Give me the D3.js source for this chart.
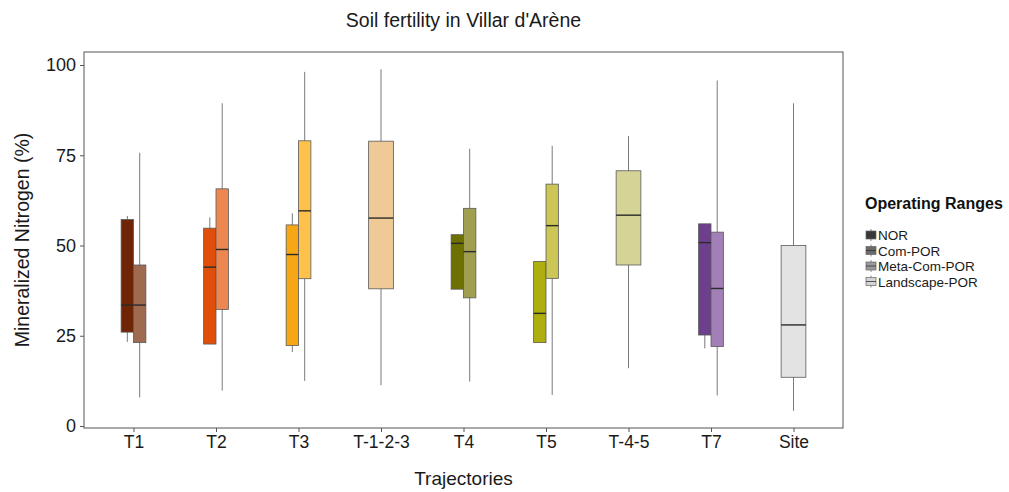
<!DOCTYPE html>
<html>
<head>
<meta charset="utf-8">
<script src="https://cdn.jsdelivr.net/npm/d3@7"></script>
<style>
  body { margin: 0; background: #fff; }
  svg { display: block; font-family: "Liberation Sans", Arial, sans-serif; }
</style>
</head>
<body>
<svg id="chart" width="1009" height="492"></svg>
<script>
// ---- data ----
const trajectories = ["T1", "T2", "T3", "T-1-2-3", "T4", "T5", "T-4-5", "T7", "Site"];
const ranges = ["NOR", "Com-POR", "Meta-Com-POR", "Landscape-POR"];
const rangeKeyColors = ["#3a3a3a", "#6a6a6a", "#9a9a9a", "#d4d4d4"];

const boxTrajectory = ["T1", "T1", "T2", "T2", "T3", "T3", "T-1-2-3", "T4", "T4", "T5", "T5", "T-4-5", "T7", "T7", "Site"];
const boxRange      = ["NOR", "Com-POR", "NOR", "Com-POR", "NOR", "Com-POR", "Meta-Com-POR", "NOR", "Com-POR", "NOR", "Com-POR", "Meta-Com-POR", "NOR", "Com-POR", "Landscape-POR"];
const whiskerLow    = [23.3, 7.9, 22.7, 9.8, 20.5, 12.5, 11.3, 37.9, 12.3, 23.1, 8.6, 16.0, 21.5, 8.5, 4.2];
const q1            = [26.0, 23.1, 22.7, 32.3, 22.3, 40.8, 38.0, 37.9, 35.5, 23.1, 40.9, 44.6, 25.2, 22.0, 13.5];
const median        = [33.5, 33.5, 44.0, 48.9, 47.5, 59.6, 57.6, 50.6, 48.3, 31.2, 55.5, 58.4, 50.8, 38.1, 28.0];
const q3            = [57.2, 44.6, 54.8, 65.7, 55.7, 79.0, 78.9, 53.0, 60.3, 45.6, 67.0, 70.7, 56.0, 53.7, 50.0];
const whiskerHigh   = [58.2, 75.7, 57.8, 89.4, 58.9, 98.1, 98.8, 53.0, 76.8, 45.6, 77.6, 80.3, 56.0, 95.7, 89.4];
const boxFill       = ["#6e2506", "#9e6a50", "#e04e0a", "#ee874f", "#f7a715", "#fec24c", "#efca96", "#6e7004", "#a09f50", "#aeae0e", "#cbc656", "#d6d396", "#6d3f8e", "#a27fb6", "#e3e3e3"];

const yTicks = [0, 25, 50, 75, 100];

// ---- layout ----
const svg = d3.select("#chart");
const panel = { left: 84, right: 843, top: 52, bottom: 428 };
const FONT = "'Liberation Sans', Arial, sans-serif";

const x = d3.scalePoint()
  .domain(trajectories)
  .range([panel.left, panel.right])
  .padding(0.6);

const y = d3.scaleLinear()
  .domain([0, 100])
  .range([426, 65]);

const fullWidth = x.step() * 0.3;

// build box records
const boxes = boxTrajectory.map((t, i) => ({
  t, r: boxRange[i], lo: whiskerLow[i], q1: q1[i], med: median[i], q3: q3[i], hi: whiskerHigh[i], fill: boxFill[i]
}));
const groups = d3.group(boxes, d => d.t);
boxes.forEach(b => {
  const g = groups.get(b.t);
  const n = g.length;
  const idx = g.indexOf(b);
  const w = fullWidth / n;
  b.x0 = x(b.t) - fullWidth / 2 + idx * w;
  b.w = w;
  b.cx = b.x0 + w / 2;
});

// panel background
svg.append("rect")
  .attr("x", panel.left).attr("y", panel.top)
  .attr("width", panel.right - panel.left).attr("height", panel.bottom - panel.top)
  .attr("fill", "#fff");

// whiskers
const gBox = svg.append("g");
gBox.selectAll("line.whisker")
  .data(boxes)
  .join("line")
  .attr("class", "whisker")
  .attr("x1", d => d.cx).attr("x2", d => d.cx)
  .attr("y1", d => y(d.lo)).attr("y2", d => y(d.hi))
  .attr("stroke", "#7a7a7a").attr("stroke-width", 1);

gBox.selectAll("rect.box")
  .data(boxes)
  .join("rect")
  .attr("class", "box")
  .attr("x", d => d.x0).attr("width", d => d.w)
  .attr("y", d => y(d.q3)).attr("height", d => y(d.q1) - y(d.q3))
  .attr("fill", d => d.fill)
  .attr("stroke", "#5a5a5a").attr("stroke-width", 0.8);

gBox.selectAll("line.median")
  .data(boxes)
  .join("line")
  .attr("class", "median")
  .attr("x1", d => d.x0).attr("x2", d => d.x0 + d.w)
  .attr("y1", d => y(d.med)).attr("y2", d => y(d.med))
  .attr("stroke", "#2a2a2a").attr("stroke-width", 1.4);

// panel border
svg.append("rect")
  .attr("x", panel.left).attr("y", panel.top)
  .attr("width", panel.right - panel.left).attr("height", panel.bottom - panel.top)
  .attr("fill", "none").attr("stroke", "#555").attr("stroke-width", 1);

// axes
const xAxis = d3.axisBottom(x).tickSize(4).tickPadding(4);
const gx = svg.append("g").attr("transform", `translate(0,${panel.bottom})`).call(xAxis);
gx.select(".domain").remove();
gx.selectAll(".tick line").attr("stroke", "#555");
gx.selectAll(".tick text").attr("font-size", 17.5).attr("fill", "#1a1a1a")
  .attr("font-family", FONT);

const yAxis = d3.axisLeft(y).tickValues(yTicks).tickSize(4).tickPadding(4);
const gy = svg.append("g").attr("transform", `translate(${panel.left},0)`).call(yAxis);
gy.select(".domain").remove();
gy.selectAll(".tick line").attr("stroke", "#555");
gy.selectAll(".tick text").attr("font-size", 18).attr("fill", "#1a1a1a")
  .attr("font-family", FONT);

// titles
svg.append("text")
  .attr("x", (panel.left + panel.right) / 2).attr("y", 27)
  .attr("text-anchor", "middle").attr("font-size", 19.5).attr("fill", "#1a1a1a")
  .text("Soil fertility in Villar d'Arène");

svg.append("text")
  .attr("x", (panel.left + panel.right) / 2).attr("y", 485)
  .attr("text-anchor", "middle").attr("font-size", 19).attr("fill", "#1a1a1a")
  .text("Trajectories");

svg.append("text")
  .attr("transform", `translate(29,${(panel.top + panel.bottom) / 2}) rotate(-90)`)
  .attr("text-anchor", "middle").attr("font-size", 19.5).attr("fill", "#1a1a1a")
  .text("Mineralized Nitrogen (%)");

// legend
const lg = svg.append("g").attr("transform", "translate(865,0)");
lg.append("text")
  .attr("x", 0).attr("y", 209)
  .attr("font-size", 16).attr("font-weight", "bold").attr("fill", "#111")
  .text("Operating Ranges");

const keyY = d3.scalePoint().domain(ranges).range([235, 281.5]);
const items = lg.selectAll("g.item").data(ranges).join("g")
  .attr("class", "item")
  .attr("transform", d => `translate(0,${keyY(d)})`);
items.append("line")
  .attr("x1", 6).attr("x2", 6).attr("y1", -6).attr("y2", 6)
  .attr("stroke", "#888").attr("stroke-width", 1);
items.append("rect")
  .attr("x", 1).attr("y", -4).attr("width", 10).attr("height", 8)
  .attr("fill", (d, i) => rangeKeyColors[i])
  .attr("stroke", "#666").attr("stroke-width", 0.7);
items.append("line")
  .attr("x1", 1).attr("x2", 11).attr("y1", 0).attr("y2", 0)
  .attr("stroke", "#333").attr("stroke-width", 0.8);
items.append("text")
  .attr("x", 13).attr("y", 5)
  .attr("font-size", 13.5).attr("fill", "#1a1a1a")
  .text(d => d);
</script>
</body>
</html>
